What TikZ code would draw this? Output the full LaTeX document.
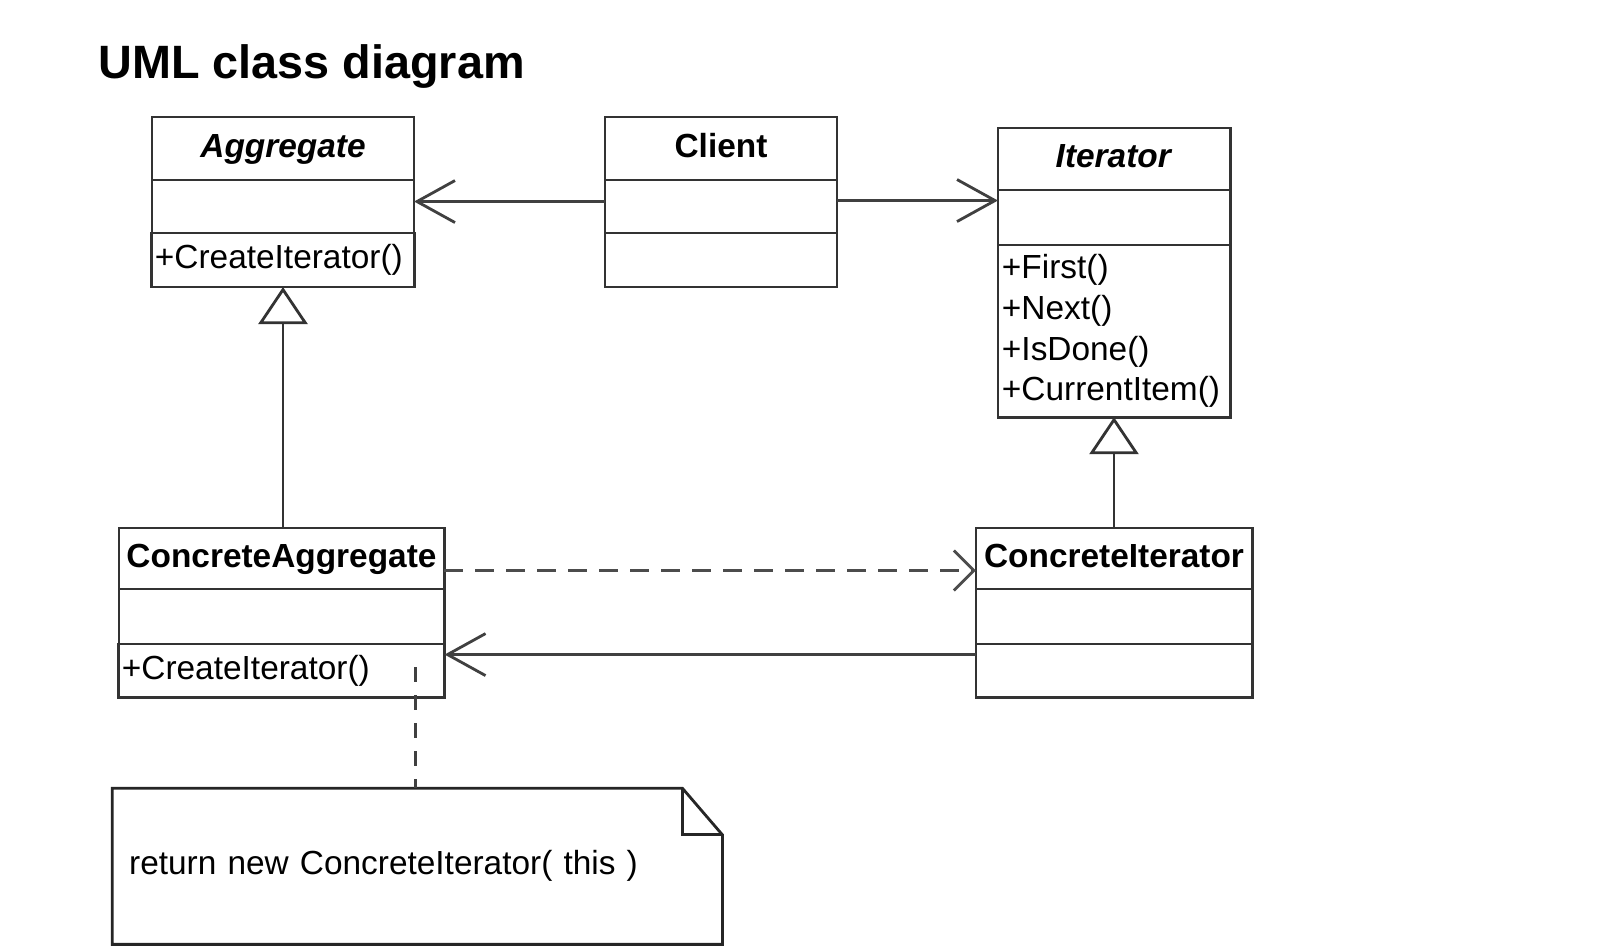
\documentclass[tikz,border=0pt]{standalone}
\usepackage{fontspec}
\setmainfont{Liberation Sans}
\usepackage{tikz}
\usetikzlibrary{arrows.meta,positioning,calc}
\tikzset{cls/.style={rectangle, draw=black!80, line width=0.8pt, fill=white, inner sep=1pt, outer sep=0pt, font=\fontsize{9.5pt}{11.6pt}\selectfont},
clsname/.style={cls, font=\fontsize{9.5pt}{11.6pt}\selectfont\bfseries, text height=7pt, text depth=2pt},
member/.style={cls, align=left, text width=#1, execute at begin node=\setlength{\baselineskip}{11.6pt}},
assoc/.style={draw=black!75, line width=0.8pt, -{Straight Barb[length=3.8mm,width=4.2mm]}},
depend/.style={draw=black!70, line width=0.8pt, dash pattern=on 1.9mm off 1.2mm, -{Straight Barb[length=2mm,width=4mm]}},
inherit/.style={draw=black!80, line width=0.8pt, -{Triangle[open,fill=white,length=3.7mm,width=4.9mm]}},
notelink/.style={draw=black!75, line width=0.8pt, dash pattern=on 1.5mm off 1.3mm},
notebox/.style={draw=black!85, line width=0.8pt}}
\begin{document}
\begin{tikzpicture}[x=0.01cm,y=-0.01cm]
\useasboundingbox (0,0) rectangle (1598,948);
\node[anchor=base west, font=\fontsize{13.3pt}{16pt}\selectfont\bfseries] (title) at (86,78.5) {UML class diagram};
\node[clsname, minimum width=2.62cm, minimum height=0.63cm] (agg) at (283,148.5) {\textit{Aggregate}};
\node[cls, minimum width=2.62cm, minimum height=0.53cm, below=0pt of agg] (agg attr) {};
\node[member=2.56cm, minimum width=2.62cm, minimum height=0.54cm, below=0pt of agg attr] (agg ops) {+CreateIterator()};
\node[clsname, minimum width=2.32cm, minimum height=0.63cm] (client) at (721,148.5) {Client};
\node[cls, minimum width=2.32cm, minimum height=0.53cm, below=0pt of client] (client attr) {};
\node[cls, minimum width=2.32cm, minimum height=0.54cm, below=0pt of client attr] (client ops) {};
\node[clsname, minimum width=2.32cm, minimum height=0.62cm] (iter) at (1114,159) {\textit{Iterator}};
\node[cls, minimum width=2.32cm, minimum height=0.55cm, below=0pt of iter] (iter attr) {};
\node[member=2.24cm, minimum width=2.32cm, minimum height=1.72cm, below=0pt of iter attr] (iter ops) {+First()\\+Next()\\+IsDone()\\+CurrentItem()};
\node[clsname, minimum width=3.25cm, minimum height=0.61cm] (cagg) at (281.5,558.5) {ConcreteAggregate};
\node[cls, minimum width=3.25cm, minimum height=0.55cm, below=0pt of cagg] (cagg attr) {};
\node[member=3.19cm, minimum width=3.25cm, minimum height=0.53cm, below=0pt of cagg attr] (cagg ops) {+CreateIterator()};
\node[clsname, minimum width=2.76cm, minimum height=0.61cm] (citer) at (1114,558.5) {ConcreteIterator};
\node[cls, minimum width=2.76cm, minimum height=0.55cm, below=0pt of citer] (citer attr) {};
\node[cls, minimum width=2.76cm, minimum height=0.53cm, below=0pt of citer attr] (citer ops) {};
\node[minimum width=6.085cm, minimum height=1.546cm, text width=5.76cm, align=left, inner sep=0pt, font=\fontsize{9.5pt}{11.6pt}\selectfont] (retnote) at (417.3,866.3) {return new ConcreteIterator( this )};
\draw[notebox] (retnote.north west) -- ($(retnote.north east)+(-40,0)$) -- ($(retnote.north east)+(0,46.6)$) -- (retnote.south east) -- (retnote.south west) -- cycle;
\draw[notebox] ($(retnote.north east)+(-40,0)$) -- ($(retnote.north east)+(-40,46.6)$) -- ($(retnote.north east)+(0,46.6)$);
\coordinate (c1) at ($(client attr.west)+(0,-5)$);
\coordinate (c2) at ($(client attr.east)+(0,-6)$);
\coordinate (c3) at ($(cagg.east)+(0,12)$);
\coordinate (c4) at ($(citer ops.west)+(0,-16)$);
\coordinate (hook) at (415.8,667);
\draw[assoc] (c1) -- (c1 -| agg attr.east);
\draw[assoc] (c2) -- (c2 -| iter attr.west);
\draw[inherit] (cagg.north -| agg ops.south) -- (agg ops.south);
\draw[inherit] (citer.north) -- (iter ops.south);
\draw[depend] (c3) -- (c3 -| citer.west);
\draw[assoc] (c4) -- (c4 -| cagg ops.east);
\draw[notelink] (hook) -- (hook |- retnote.north);
\end{tikzpicture}
\end{document}
